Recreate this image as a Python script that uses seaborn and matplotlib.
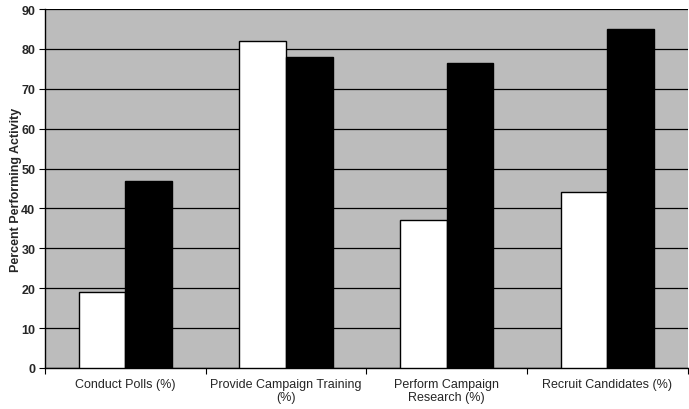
import matplotlib
matplotlib.use("Agg")
import matplotlib.pyplot as plt
import seaborn as sns
import pandas as pd
import numpy as np

categories = ["Conduct Polls (%)", "Provide Campaign Training\n(%)",
              "Perform Campaign\nResearch (%)", "Recruit Candidates (%)"]
series_names = ["Group A", "Group B"]
values_a = [19, 82, 37, 44]
values_b = [47, 78, 76.5, 85]
y_ticks = [0, 10, 20, 30, 40, 50, 60, 70, 80, 90]

df = pd.DataFrame({
    "category": categories * 2,
    "series": [series_names[0]] * 4 + [series_names[1]] * 4,
    "value": values_a + values_b,
})

sns.set_theme(style="white")
plt.rcParams["font.family"] = ["Liberation Sans", "DejaVu Sans"]

fig = plt.figure(figsize=(6.89, 4.10), dpi=100)
ax = fig.add_axes([0.0653, 0.1, 0.933, 0.8756])
ax.set_facecolor("#bcbcbc")

sns.barplot(data=df, x="category", y="value", hue="series",
            palette=["white", "black"], edgecolor="black", linewidth=1.0,
            width=0.58, errorbar=None, legend=False, ax=ax, zorder=3)

ax.set_ylim(0, 90)
ax.set_xlim(-0.5, 3.5)
ax.set_yticks(y_ticks)
ax.set_yticklabels([str(t) for t in y_ticks], fontsize=9, fontweight="bold")
ax.yaxis.grid(True, color="black", linewidth=0.9, zorder=1)
ax.set_axisbelow(True)

ax.set_xticks(range(len(categories)))
ax.set_xticklabels(categories, fontsize=9, linespacing=1.15)
ax.tick_params(axis="x", length=0, pad=7)
ax.set_xticks(np.arange(-0.5, 3.6, 1.0), minor=True)
ax.tick_params(axis="x", which="minor", length=4, width=0.8, color="black",
               bottom=True)
ax.tick_params(axis="y", length=4, width=0.8, color="black", left=True, pad=3)

ax.set_xlabel("")
ax.set_ylabel("Percent Performing Activity", fontsize=9, fontweight="bold")
ax.yaxis.set_label_coords(-0.036, 0.5)

for side in ["top", "right"]:
    ax.spines[side].set_visible(False)
for side in ["left", "bottom"]:
    ax.spines[side].set_color("black")
    ax.spines[side].set_linewidth(1.0)

fig.savefig("out.png", dpi=100, facecolor="white")
